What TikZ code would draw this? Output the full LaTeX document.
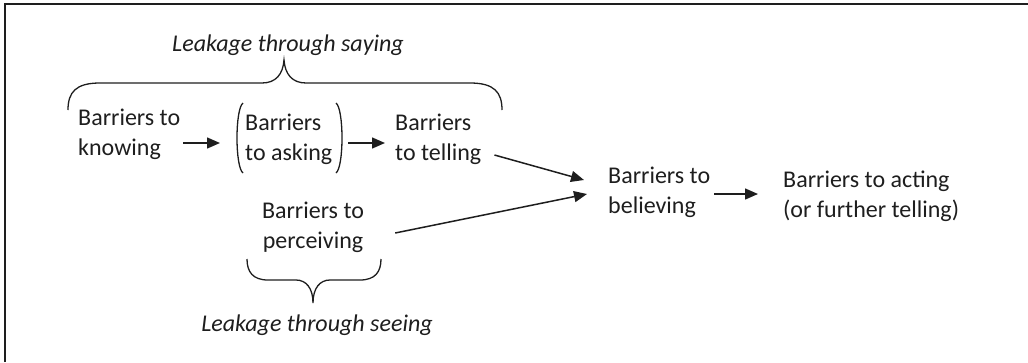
\documentclass[tikz,border=0pt]{standalone}
\usepackage{fontspec}
\setmainfont{Carlito}
\usetikzlibrary{arrows.meta}
\definecolor{ink}{HTML}{1E1E1E}
\tikzset{
  lbl/.style={inner sep=0pt, align=left, text=ink, font=\fontsize{24}{30}\selectfont},
  ital/.style={inner sep=0pt, text=ink, font=\fontsize{24}{30}\selectfont\itshape},
  arr/.style={draw=ink, line width=1.5pt, -{Triangle[length=13pt,width=11pt]}},
  brc/.style={draw=ink, line width=1.3pt},
  frame/.style={draw=ink, line width=2pt}
}
\begin{document}
\begin{tikzpicture}[x=1pt,y=-1pt]
\useasboundingbox (0,0) rectangle (1028,362);
\draw[frame] (5,362) -- (5,4) -- (1028,4);

\node[lbl, anchor=west] (know) at (78,134) {Barriers to\\knowing};
\node[lbl, anchor=west] (ask) at (245,139) {Barriers\\to asking};
\node[lbl, anchor=west] (tell) at (395,139) {Barriers\\to telling};
\node[lbl, align=center] (perceive) at (313,227) {Barriers to\\perceiving};
\node[lbl, anchor=west] (believe) at (608,192) {Barriers to\\believing};
\node[lbl, anchor=west] (act) at (783,196) {Barriers to acting\\(or further telling)};
\node[ital] (say) at (288,45) {Leakage through saying};
\node[ital] (see) at (317,325) {Leakage through seeing};

% parentheses around "Barriers to asking"
\draw[brc] ([shift={(-2,-36)}]ask.west) .. controls +(-8,6) and +(-8,-6) .. ([shift={(-2,34)}]ask.west);
\draw[brc] ([shift={(91,-36)}]ask.west) .. controls +(8,6) and +(8,-6) .. ([shift={(91,34)}]ask.west);

% braces
\draw[brc] (68,110) .. controls (68,92) and (76,83) .. (100,83)
  -- (262,83) .. controls (276,83) and (283,74) .. (284,60)
  .. controls (285,74) and (292,83) .. (306,83)
  -- (470,83) .. controls (494,83) and (502,92) .. (502,110);
\draw[brc] (247,259) .. controls (247,272) and (253,280) .. (268,280)
  -- (296,280) .. controls (306,280) and (313,288) .. (313,303)
  .. controls (313,288) and (320,280) .. (330,280)
  -- (360,280) .. controls (375,280) and (381,272) .. (381,259);

% arrows
\draw[arr] ([shift={(3,9)}]know.east) -- ([shift={(-25,4)}]ask.west);
\draw[arr] ([shift={(103,4)}]ask.west) -- ([shift={(-10,4)}]tell.west);
\draw[arr] ([shift={(13,16)}]tell.east) -- ([shift={(-24,-12)}]believe.west);
\draw[arr] ([shift={(31,6)}]perceive.east) -- ([shift={(-21,2)}]believe.west);
\draw[arr] ([shift={(4,2)}]believe.east) -- ([shift={(-25,-2)}]act.west);
\end{tikzpicture}
\end{document}
